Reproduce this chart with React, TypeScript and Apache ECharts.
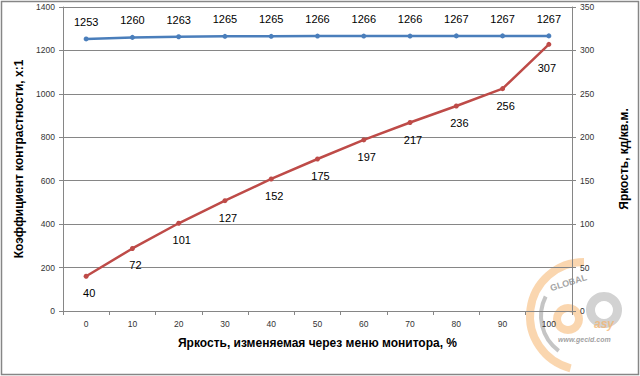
import React, { useEffect, useRef } from "react";
import * as echarts from "echarts";

const categories = ["0", "10", "20", "30", "40", "50", "60", "70", "80", "90", "100"];
const contrast = [1253, 1260, 1263, 1265, 1265, 1266, 1266, 1266, 1267, 1267, 1267];
const brightness = [40, 72, 101, 127, 152, 175, 197, 217, 236, 256, 307];

const FONT = "'Liberation Sans', Arial, sans-serif";

export default function App() {
  const ref = useRef<HTMLDivElement>(null);
  useEffect(() => {
    document.body.style.margin = "0";
    const chart = echarts.init(ref.current!, null, { renderer: "svg" });
    const plain = (v: number) => String(v);
    const brightnessData = brightness.map((v, i) =>
      i === brightness.length - 1 ? { value: v, label: { offset: [-2, 7] } } : v
    );
    chart.setOption({
      animation: false,
      backgroundColor: "#ffffff",
      grid: { left: 63, right: 68, top: 7, bottom: 65, containLabel: false },
      xAxis: {
        type: "category",
        data: categories,
        boundaryGap: true,
        name: "Яркость, изменяемая через меню монитора, %",
        nameLocation: "middle",
        nameGap: 26,
        nameTextStyle: { fontFamily: FONT, fontSize: 12, fontWeight: "bold", color: "#000" },
        axisLine: { lineStyle: { color: "#868686", width: 1 } },
        axisTick: { show: true, alignWithLabel: false, length: 4, lineStyle: { color: "#868686" } },
        axisLabel: { fontFamily: FONT, fontSize: 8.5, color: "#333", margin: 8 },
      },
      yAxis: [
        {
          type: "value",
          min: 0,
          max: 1400,
          interval: 200,
          position: "left",
          name: "Коэффициент контрастности, х:1",
          nameLocation: "middle",
          nameGap: 38,
          nameRotate: 90,
          nameTextStyle: { fontFamily: FONT, fontSize: 12, fontWeight: "bold", color: "#000" },
          axisLine: { show: true, lineStyle: { color: "#868686" } },
          axisTick: { show: true, length: 4, lineStyle: { color: "#868686" } },
          axisLabel: { fontFamily: FONT, fontSize: 8.5, color: "#333", margin: 8, formatter: plain },
          splitLine: { show: true, lineStyle: { color: "#868686", width: 1 } },
        },
        {
          type: "value",
          min: 0,
          max: 350,
          interval: 50,
          position: "right",
          name: "Яркость, кд/кв.м.",
          nameLocation: "middle",
          nameGap: 46,
          nameRotate: 90,
          nameTextStyle: { fontFamily: FONT, fontSize: 12, fontWeight: "bold", color: "#000" },
          axisLine: { show: true, lineStyle: { color: "#868686" } },
          axisTick: { show: true, length: 4, lineStyle: { color: "#868686" } },
          axisLabel: { fontFamily: FONT, fontSize: 8.5, color: "#333", margin: 8, formatter: plain },
          splitLine: { show: false },
        },
      ],
      series: [
        {
          name: "contrast",
          type: "line",
          yAxisIndex: 0,
          data: contrast,
          symbol: "circle",
          symbolSize: 5,
          lineStyle: { color: "#4A7EBB", width: 2.5 },
          itemStyle: { color: "#4A7EBB" },
          label: {
            show: true,
            position: "top",
            distance: 9,
            fontFamily: FONT,
            fontSize: 11,
            color: "#000",
          },
        },
        {
          name: "brightness",
          type: "line",
          yAxisIndex: 1,
          data: brightnessData,
          symbol: "circle",
          symbolSize: 5,
          lineStyle: { color: "#BE4B48", width: 2.5 },
          itemStyle: { color: "#BE4B48" },
          label: {
            show: true,
            position: "bottom",
            distance: 9,
            offset: [3, 0],
            fontFamily: FONT,
            fontSize: 11,
            color: "#000",
          },
        },
      ],
      graphic: [
        {
          type: "rect",
          shape: { x: 1.5, y: 1.5, width: 637, height: 373 },
          style: { fill: "none", stroke: "#868686", lineWidth: 1.5 },
          silent: true,
          z: 100,
        },
        {
          type: "group",
          silent: true,
          z: 50,
          children: [
            {
              type: "arc",
              shape: { cx: 584, cy: 316, r: 54, startAngle: Math.PI * 0.58, endAngle: Math.PI * 1.5 },
              style: { stroke: "rgba(245,180,110,0.55)", lineWidth: 8, fill: "none" },
            },
            {
              type: "arc",
              shape: { cx: 584, cy: 316, r: 43, startAngle: Math.PI * 0.7, endAngle: Math.PI * 1.15 },
              style: { stroke: "rgba(150,150,150,0.55)", lineWidth: 4, fill: "none" },
            },
            {
              type: "text",
              x: 549,
              y: 284,
              rotation: 0.3,
              style: { text: "GLOBAL", fontFamily: FONT, fontSize: 9, fontWeight: "bold", fill: "rgba(140,140,140,0.8)" },
            },
            {
              type: "ring",
              shape: { cx: 568, cy: 319, r: 15, r0: 7 },
              style: { fill: "rgba(245,180,110,0.55)" },
            },
            {
              type: "ring",
              shape: { cx: 604, cy: 310, r: 18, r0: 9 },
              style: { fill: "rgba(180,180,180,0.6)" },
            },
            {
              type: "text",
              x: 594,
              y: 318,
              style: { text: "asy", fontFamily: FONT, fontSize: 12, fontStyle: "italic", fontWeight: "bold", fill: "rgba(245,180,110,0.75)" },
            },
            {
              type: "text",
              x: 558,
              y: 336,
              style: { text: "www.gecid.com", fontFamily: FONT, fontSize: 7, fontWeight: "bold", fontStyle: "italic", fill: "rgba(150,150,150,0.9)" },
            },
          ],
        },
      ],
    });
    return () => chart.dispose();
  }, []);
  return <div ref={ref} style={{ width: 640, height: 376 }} />;
}
